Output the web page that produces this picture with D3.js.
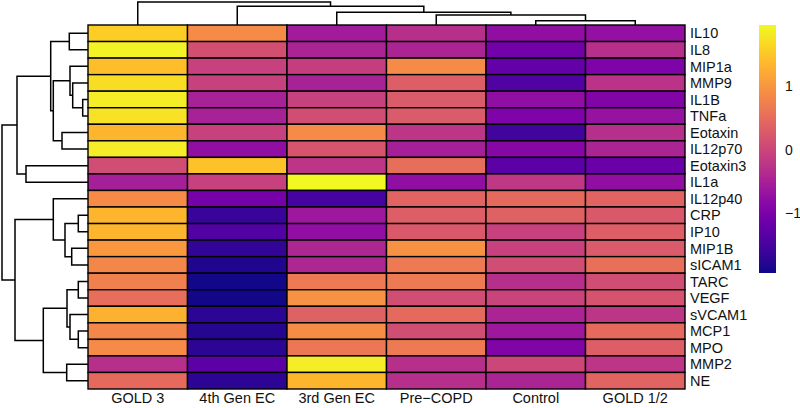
<!DOCTYPE html>
<html>
<head>
<meta charset="utf-8">
<script src="https://cdn.jsdelivr.net/npm/d3@7"></script>
<style>
  body { margin: 0; background: #fff; }
  svg text { font-family: "Liberation Sans", Arial, Helvetica, sans-serif; fill: #111; }
</style>
</head>
<body>
<div class="chart"></div>
<script>
var width = 800
var height = 408

// categories, in displayed (clustered) order
var columns = ["GOLD 3", "4th Gen EC", "3rd Gen EC", "Pre\u2212COPD", "Control", "GOLD 1/2"];
var rows = ["IL10", "IL8", "MIP1a", "MMP9", "IL1B", "TNFa", "Eotaxin", "IL12p70", "Eotaxin3", "IL1a",
  "IL12p40", "CRP", "IP10", "MIP1B", "sICAM1", "TARC", "VEGF", "sVCAM1", "MCP1", "MPO", "MMP2", "NE"];

// scaled values, one array per column
var gold3     = [1.58, 1.90, 1.42, 1.70, 1.85, 1.77, 1.34, 1.85, 0.09, -0.54, 0.87, 1.34, 1.34, 1.03, 0.83, 0.75, 0.52, 1.30, 0.83, 0.87, -0.30, 0.48];
var gen4      = [0.87, 0.13, -0.07, -0.07, -0.50, -0.50, -0.07, -0.77, 1.46, -0.07, -1.05, -1.64, -1.40, -1.68, -1.83, -1.91, -1.91, -1.75, -1.79, -1.75, -1.32, -1.75];
var gen3      = [-0.58, -0.46, -0.10, -0.50, -0.07, 0.09, 0.87, 0.20, -0.22, 1.97, -1.52, -0.62, -0.77, -0.42, -0.42, 0.68, 0.95, 0.36, 0.91, 0.64, 1.85, 1.34];
var preCopd   = [-0.30, -0.46, 0.87, 0.32, 0.28, 0.28, -0.22, -0.54, 0.52, -0.77, 0.40, 0.32, 0.24, 0.95, 0.68, 0.68, 0.09, 0.48, 0.09, 0.68, -0.30, -0.30];
var control   = [-0.77, -1.09, -1.24, -1.40, -0.77, -0.97, -1.56, -0.89, -1.32, -0.19, 0.48, 0.36, -0.07, -0.07, 0.09, -0.30, -0.03, -0.46, -0.62, -0.93, 0.01, -0.46];
var gold12    = [-0.73, -0.30, -0.97, -0.26, -0.93, -0.70, -0.30, -0.46, -1.17, -0.77, 0.40, 0.24, 0.32, 0.28, 0.56, 0.09, 0.17, -0.22, 0.48, 0.32, -0.22, 0.40];
var series = [gold3, gen4, gen3, preCopd, control, gold12];

// hclust style merges: negative = leaf -(index+1), positive = earlier merge (1-based), then height
var rowMerge = [
  [-5, -6, 5.3], [-12, -13, 9.7], [-16, -17, 9.7], [-19, -20, 9.7], [-4, 1, 15.3],
  [-14, -15, 16.3], [-3, 5, 18], [-18, 4, 18], [-1, -2, 18.7], [3, 8, 21],
  [-21, -22, 21.3], [2, 6, 23], [-7, -8, 26], [7, 13, 34.7], [-11, 12, 34.7],
  [9, 14, 37.3], [10, 11, 44.7], [-9, -10, 62], [16, 18, 71], [15, 17, 73], [19, 20, 86]
];
var colMerge = [[-5, -6, 4.3], [-4, 1, 10], [-3, 2, 12.7], [-2, 3, 18.7], [-1, 4, 23]];

var legendTicks = [-1, 0, 1];
var valueRange = [-1.95, 1.97];

var svg = d3.select(".chart").append("svg")
    .attr("width", width)
    .attr("height", height);

var x = d3.scaleBand().domain(columns).range([88, 685]);
var y = d3.scaleBand().domain(rows).range([25, 389]);
var color = d3.scaleSequential(d3.interpolatePlasma).domain(valueRange);

// cells
var cells = [];
columns.forEach(function(c, i) {
  rows.forEach(function(r, j) {
    cells.push({ col: c, row: r, value: series[i][j] });
  });
});

svg.append("g").selectAll("rect")
    .data(cells)
  .enter().append("rect")
    .attr("x", function(d) { return x(d.col); })
    .attr("y", function(d) { return y(d.row); })
    .attr("width", x.bandwidth())
    .attr("height", y.bandwidth())
    .attr("fill", function(d) { return color(d.value); })
    .attr("stroke", "#000")
    .attr("stroke-width", 1.4);

// dendrograms
function dendroPaths(merge, leafPos, hScale, base, vertical) {
  var nodes = [];
  var paths = [];
  function get(k) {
    if (k < 0) return { p: leafPos(-k - 1), h: base };
    return nodes[k - 1];
  }
  merge.forEach(function(m) {
    var a = get(m[0]), b = get(m[1]);
    var h = hScale(m[2]);
    var p = (a.p + b.p) / 2;
    if (vertical) {
      paths.push("M" + a.p + "," + a.h + "V" + h + "H" + b.p + "V" + b.h);
    } else {
      paths.push("M" + a.h + "," + a.p + "H" + h + "V" + b.p + "H" + b.h);
    }
    nodes.push({ p: p, h: h });
  });
  return paths;
}

var rowH = d3.scaleLinear().domain([0, 86]).range([88, 2]);
var colH = d3.scaleLinear().domain([0, 23]).range([25, 2]);

var rowPaths = dendroPaths(rowMerge, function(i) { return y(rows[i]) + y.bandwidth() / 2; }, rowH, 88, false);
var colPaths = dendroPaths(colMerge, function(i) { return x(columns[i]) + x.bandwidth() / 2; }, colH, 25, true);

svg.append("g").selectAll("path")
    .data(rowPaths.concat(colPaths))
  .enter().append("path")
    .attr("d", function(d) { return d; })
    .attr("fill", "none")
    .attr("stroke", "#000")
    .attr("stroke-width", 1.5);

// labels
svg.append("g").selectAll("text")
    .data(rows)
  .enter().append("text")
    .attr("x", 690)
    .attr("y", function(d) { return y(d) + y.bandwidth() / 2; })
    .attr("dy", "0.36em")
    .style("font-size", "14.5px")
    .text(function(d) { return d; });

svg.append("g").selectAll("text")
    .data(columns)
  .enter().append("text")
    .attr("x", function(d) { return x(d) + x.bandwidth() / 2; })
    .attr("y", 402.5)
    .attr("text-anchor", "middle")
    .style("font-size", "14.5px")
    .text(function(d) { return d; });

// colour legend
var ly = d3.scaleLinear().domain(valueRange).range([273, 25]);
var grad = svg.append("defs").append("linearGradient")
    .attr("id", "plasma")
    .attr("x1", 0).attr("y1", 1).attr("x2", 0).attr("y2", 0);
d3.range(0, 1.0001, 0.05).forEach(function(t) {
  grad.append("stop")
      .attr("offset", t)
      .attr("stop-color", d3.interpolatePlasma(t));
});

svg.append("rect")
    .attr("x", 759)
    .attr("y", ly(valueRange[1]))
    .attr("width", 17)
    .attr("height", ly(valueRange[0]) - ly(valueRange[1]))
    .attr("fill", "url(#plasma)");

svg.append("g").selectAll("text")
    .data(legendTicks)
  .enter().append("text")
    .attr("x", 785)
    .attr("y", function(d) { return ly(d); })
    .attr("dy", "0.36em")
    .style("font-size", "14px")
    .text(function(d) { return d < 0 ? "\u2212" + Math.abs(d) : d; });
</script>
</body>
</html>
